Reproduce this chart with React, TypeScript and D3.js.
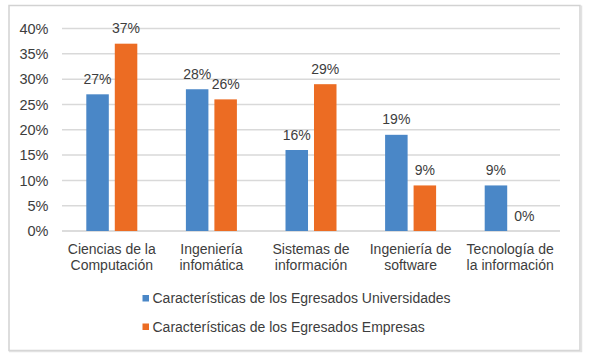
import * as React from 'react';
import { Component } from 'react';
import * as d3 from 'd3';

const categories = [
  'Ciencias de la\nComputación',
  'Ingeniería\ninfomática',
  'Sistemas de\ninformación',
  'Ingeniería de\nsoftware',
  'Tecnología de\nla información',
];

const seriesNames = [
  'Características de los Egresados Universidades',
  'Características de los Egresados Empresas',
];

const universidades = [0.27, 0.28, 0.16, 0.19, 0.09];
const empresas = [0.37, 0.26, 0.29, 0.09, 0.0];

const yTicks = [0, 0.05, 0.1, 0.15, 0.2, 0.25, 0.3, 0.35, 0.4];

const colors = ['#4a87c7', '#ec6c23'];

const WIDTH = 591;
const HEIGHT = 361;
const FONT = '"Liberation Sans", Arial, sans-serif';
const TEXT = '#3d3d3d';

class BarChart extends Component {
  private node: SVGSVGElement | null = null;

  public componentDidMount() {
    this.createGraph();
  }

  public render() {
    return (
      <svg
        ref={(node) => { this.node = node; }}
        width={WIDTH}
        height={HEIGHT}
        style={{ position: 'absolute', left: 0, top: 0, background: '#fff' }}
      />
    );
  }

  private createGraph() {
    const svg = d3.select(this.node);
    svg.selectAll('*').remove();

    // chart frame
    svg.append('rect')
      .attr('x', 9).attr('y', 5.5).attr('width', 571).attr('height', 345)
      .attr('fill', '#fff').attr('stroke', '#d2d2d2').attr('stroke-width', 1.5);
    svg.append('path')
      .attr('d', 'M581.5,5.5 V351.5 H9')
      .attr('fill', 'none').attr('stroke', '#e2e2e2').attr('stroke-width', 1.5);

    const x0 = d3.scaleBand<number>()
      .domain(d3.range(categories.length))
      .range([62, 560]);

    const groupW = 51;
    const x1 = d3.scaleBand<number>()
      .domain([0, 1])
      .range([0, groupW])
      .paddingInner(0.21);

    const y = d3.scaleLinear().domain([0, 0.4]).range([231, 28.5]);

    // gridlines
    svg.append('g').selectAll('line')
      .data(yTicks)
      .enter().append('line')
      .attr('x1', 62).attr('x2', 560)
      .attr('y1', (d) => y(d)).attr('y2', (d) => y(d))
      .attr('stroke', (d) => d === 0 ? '#d0d0d0' : '#d9d9d9')
      .attr('stroke-width', 1.5);

    // y tick labels
    svg.append('g').selectAll('text')
      .data(yTicks)
      .enter().append('text')
      .attr('x', 48.5)
      .attr('y', (d) => y(d))
      .attr('dy', '0.36em')
      .attr('text-anchor', 'end')
      .attr('font-family', FONT)
      .attr('font-size', 14.5)
      .attr('fill', TEXT)
      .text((d) => d3.format('.0%')(d));

    const values = [universidades, empresas];
    const offset = (x0.bandwidth() - groupW) / 2;

    values.forEach((vals, s) => {
      const g = svg.append('g');
      g.selectAll('rect')
        .data(vals)
        .enter().append('rect')
        .attr('x', (_, i) => (x0(i) as number) + offset + (x1(s) as number))
        .attr('y', (d) => y(d))
        .attr('width', x1.bandwidth())
        .attr('height', (d) => y(0) - y(d))
        .attr('fill', colors[s]);

      g.selectAll('text')
        .data(vals)
        .enter().append('text')
        .attr('x', (_, i) => (x0(i) as number) + offset + (x1(s) as number) + x1.bandwidth() / 2)
        .attr('y', (d) => y(d) - 10.5)
        .attr('text-anchor', 'middle')
        .attr('font-family', FONT)
        .attr('font-size', 14)
        .attr('fill', TEXT)
        .text((d) => d3.format('.0%')(d));
    });

    // category labels
    const cat = svg.append('g').selectAll('text')
      .data(categories)
      .enter().append('text')
      .attr('x', (_, i) => (x0(i) as number) + x0.bandwidth() / 2)
      .attr('y', 253.5)
      .attr('text-anchor', 'middle')
      .attr('font-family', FONT)
      .attr('font-size', 14)
      .attr('fill', TEXT);
    cat.selectAll('tspan')
      .data((d) => d.split('\n'))
      .enter().append('tspan')
      .attr('x', function () {
        return (this.parentNode as SVGTextElement).getAttribute('x');
      })
      .attr('dy', (_, i) => i === 0 ? 0 : 16)
      .text((d) => d);

    // legend
    const legend = svg.append('g').selectAll('g')
      .data(seriesNames)
      .enter().append('g')
      .attr('transform', (_, i) => `translate(142.5, ${295 + i * 28.5})`);
    legend.append('rect')
      .attr('width', 6.5).attr('height', 6.5)
      .attr('fill', (_, i) => colors[i]);
    legend.append('text')
      .attr('x', 10)
      .attr('y', 3.3)
      .attr('dy', '0.36em')
      .attr('font-family', FONT)
      .attr('font-size', 14)
      .attr('fill', TEXT)
      .text((d) => d);
  }
}

export default function App() {
  return <BarChart />;
}
